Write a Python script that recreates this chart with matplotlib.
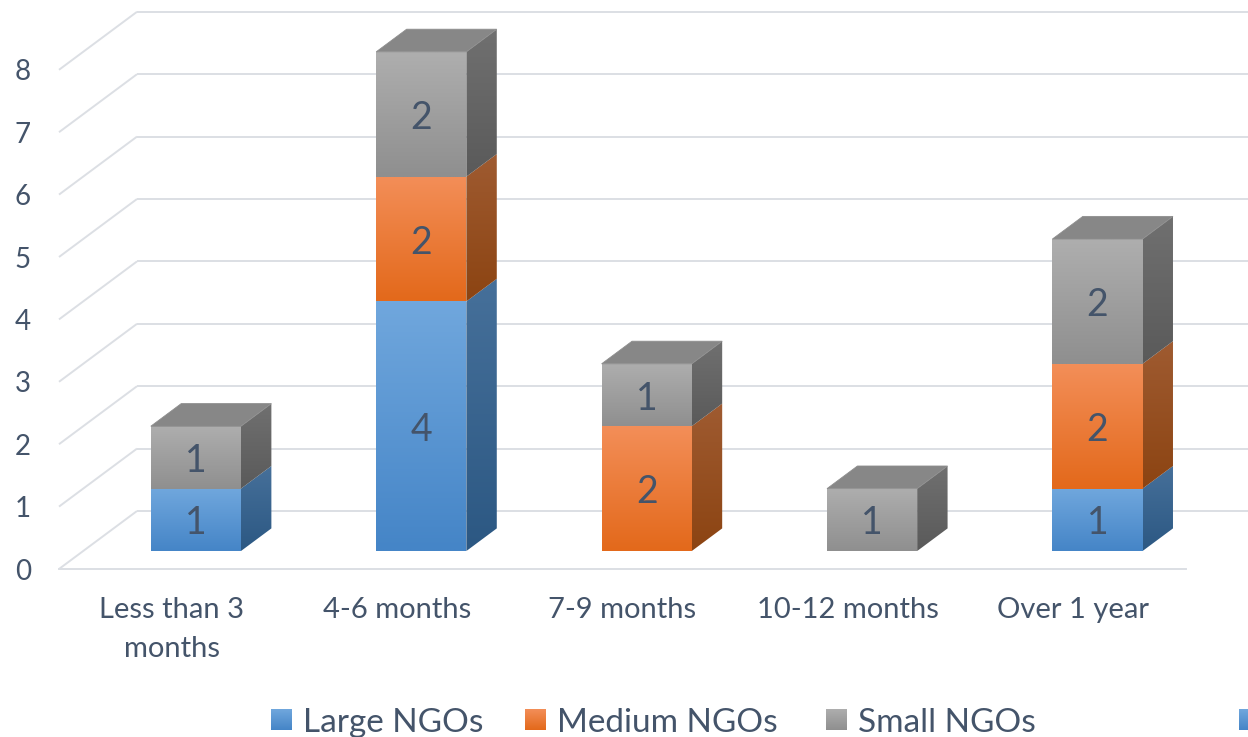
import numpy as np
import matplotlib
matplotlib.use("Agg")
import matplotlib.pyplot as plt
from matplotlib.patches import Polygon
from matplotlib.colors import to_rgb

# ---- data ----
categories = ["Less than 3\nmonths", "4-6 months", "7-9 months", "10-12 months", "Over 1 year"]
series_names = ["Large NGOs", "Medium NGOs", "Small NGOs"]
large = [1, 4, 0, 0, 1]
medium = [0, 2, 2, 0, 2]
small = [1, 2, 1, 1, 2]
y_ticks = [0, 1, 2, 3, 4, 5, 6, 7, 8]

# ---- styling ----
W, H, DPI = 1248, 737, 100
CAT_PX = 225.4       # pixels per category
UNIT_PX = 62.4       # pixels per value unit
X0_PX, Y0_PX = 59, 569
DEPTH_DX = 78 / CAT_PX   # oblique offset for full depth (category units)
DEPTH_DY = 58 / UNIT_PX  # oblique offset for full depth (value units)
FRONT_D, BACK_D = 0.31, 0.70
BAR_W = 0.40
TEXT_C = "#44546A"
GRID_C = "#DCDFE4"
FONT = ["Lato", "DejaVu Sans"]

# front-face gradient (top, bottom), side-face gradient (top, bottom)
styles = {
    "Large NGOs": (("#70A7DD", "#4585C7"), ("#46709A", "#2C5883")),
    "Medium NGOs": (("#F38E58", "#E3691B"), ("#9F5B31", "#8C4412")),
    "Small NGOs": (("#AEAEAE", "#8F8F8F"), ("#707070", "#5A5A5A")),
}
TOP_C = "#878787"

fig = plt.figure(figsize=(W / DPI, H / DPI), dpi=DPI)
ax = fig.add_axes([0, 0, 1, 1])
ax.set_axis_off()
xlim = (-X0_PX / CAT_PX, (W - X0_PX) / CAT_PX)
ylim = ((Y0_PX - H) / UNIT_PX, Y0_PX / UNIT_PX)


def px(x, y):
    """Pixel position -> data coordinates."""
    return (x - X0_PX) / CAT_PX, (Y0_PX - y) / UNIT_PX


def grad_fill(verts, c_top, c_bot, z):
    verts = np.asarray(verts, dtype=float)
    poly = Polygon(verts, closed=True, fc="none", ec="none", zorder=z)
    ax.add_patch(poly)
    n = 64
    t = np.linspace(0, 1, n)[:, None]
    a, b = np.array(to_rgb(c_top)), np.array(to_rgb(c_bot))
    arr = (a * (1 - t) + b * t)[:, None, :]
    x0, y0 = verts.min(axis=0)
    x1, y1 = verts.max(axis=0)
    im = ax.imshow(arr, extent=[x0, x1, y0, y1], origin="upper",
                   aspect="auto", interpolation="bilinear", zorder=z)
    im.set_clip_path(poly)


# ---- walls / gridlines ----
for v in y_ticks:
    ax.plot([0, DEPTH_DX], [v, v + DEPTH_DY], color=GRID_C, lw=1.4, zorder=1,
            solid_capstyle="butt")
    ax.plot([DEPTH_DX, xlim[1] + 1], [v + DEPTH_DY, v + DEPTH_DY], color=GRID_C,
            lw=1.4, zorder=1, solid_capstyle="butt")
ax.plot([0, len(categories)], [0, 0], color=GRID_C, lw=1.4, zorder=1)

# ---- 3D stacked columns ----
series = [large, medium, small]
for i in range(len(categories)):
    xl = i + 0.5 - BAR_W / 2 + FRONT_D * DEPTH_DX
    xr = xl + BAR_W
    fy = FRONT_D * DEPTH_DY
    ddx = (BACK_D - FRONT_D) * DEPTH_DX
    ddy = (BACK_D - FRONT_D) * DEPTH_DY
    base = 0
    for name, vals in zip(series_names, series):
        v = vals[i]
        if v == 0:
            continue
        top = base + v
        (f_top, f_bot), (s_top, s_bot) = styles[name]
        side = [(xr, base + fy), (xr + ddx, base + fy + ddy),
                (xr + ddx, top + fy + ddy), (xr, top + fy)]
        grad_fill(side, s_top, s_bot, 3)
        front = [(xl, base + fy), (xr, base + fy), (xr, top + fy), (xl, top + fy)]
        grad_fill(front, f_top, f_bot, 4)
        ax.text((xl + xr) / 2, (base + top) / 2 + fy, str(v), ha="center",
                va="center_baseline", fontsize=27, color=TEXT_C, family=FONT,
                zorder=6)
        base = top
    fy_top = base + fy
    top_face = [(xl, fy_top), (xr, fy_top), (xr + ddx, fy_top + ddy),
                (xl + ddx, fy_top + ddy)]
    ax.add_patch(Polygon(top_face, closed=True, fc=TOP_C, ec="#8E8E8E",
                         lw=0.6, zorder=5))

# ---- value axis labels ----
lx, _ = px(31, 0)
for v in y_ticks:
    ax.text(lx, v, str(v), ha="right", va="center_baseline", fontsize=20,
            color=TEXT_C, family=FONT)

# ---- category labels ----
_, ly = px(0, 597)
for i, c in enumerate(categories):
    ax.text(i + 0.5, ly, c, ha="center", va="top", fontsize=21, color=TEXT_C,
            family=FONT, linespacing=1.6)

# ---- legend ----
legend_items = [(271, "Large NGOs"), (525, "Medium NGOs"), (826, "Small NGOs")]
for (x_px, name) in legend_items:
    (f_top, f_bot), _s = styles[name]
    a0 = px(x_px, 730)
    a1 = px(x_px + 21, 709)
    grad_fill([(a0[0], a0[1]), (a1[0], a0[1]), (a1[0], a1[1]), (a0[0], a1[1])],
              f_top, f_bot, 4)
    tx, ty = px(x_px + 32, 720)
    ax.text(tx, ty, name, ha="left", va="center_baseline", fontsize=24,
            color=TEXT_C, family=FONT)
# next legend marker, running past the right edge
a0 = px(1239, 730)
a1 = px(1260, 709)
grad_fill([(a0[0], a0[1]), (a1[0], a0[1]), (a1[0], a1[1]), (a0[0], a1[1])],
          styles["Large NGOs"][0][0], styles["Large NGOs"][0][1], 4)

ax.set_xlim(*xlim)
ax.set_ylim(*ylim)
fig.savefig("out.png", dpi=DPI, facecolor="white")
